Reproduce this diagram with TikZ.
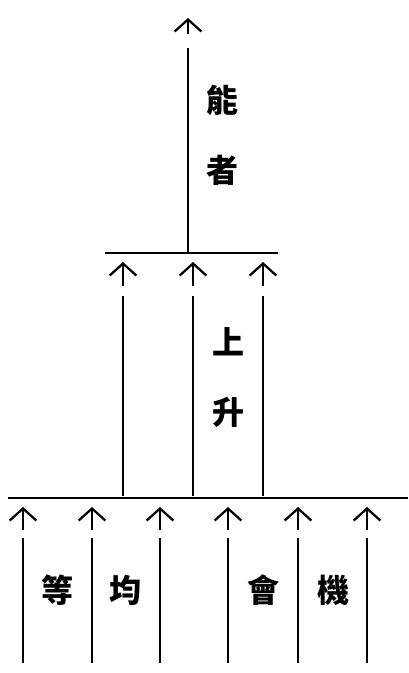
\documentclass[tikz,border=0pt]{standalone}
\usepackage{fontspec}
\newfontfamily\cjk{Noto Sans CJK TC}
\usetikzlibrary{arrows.meta}

\begin{document}
\begin{tikzpicture}[
    x=0.75pt, y=-0.75pt,
    head/.style={-{Straight Barb[length=9pt, width=20pt, line width=1.7pt]}, line width=1.7pt},
    shaft/.style={line width=1.6pt},
    bar/.style={line width=1.6pt},
    lbl/.style={font=\cjk\bfseries\fontsize{24}{24}\selectfont, inner sep=0pt}
]
\useasboundingbox (0,0) rectangle (408,673);

% --- Row 0: single arrow on top ---
\coordinate (toptip)  at (188,18);
\coordinate (topstem) at (188,34);
\coordinate (topline) at (188,48);
\coordinate (topfoot) at (188,253);

\draw[head]  (topstem) -- (toptip);
\draw[shaft] (topfoot) -- (topline);

\node[lbl] (neng) at (222,100) {能};
\node[lbl] (zhe)  at (222,170) {者};

% --- Row 1: three arrows ---
\coordinate (midleft)  at (105,253);
\coordinate (midright) at (278,253);
\draw[bar] (midleft) -- (midright);

\foreach \x/\n in {123/a, 193/b, 263/c} {
    \coordinate (mid\n tip)  at (\x,262);
    \coordinate (mid\n stem) at (\x,286);
    \coordinate (mid\n line) at (\x,296);
    \coordinate (mid\n foot) at (\x,496);
    \draw[head]  (mid\n stem) -- (mid\n tip);
    \draw[shaft] (mid\n foot) -- (mid\n line);
}

\node[lbl] (shang)  at (228,342) {上};
\node[lbl] (sheng)  at (228,412) {升};

% --- Row 2: six arrows ---
\coordinate (lowleft)  at (8,498);
\coordinate (lowright) at (408,498);
\draw[bar] (lowleft) -- (lowright);

\foreach \x/\n in {23/a, 92/b, 160/c, 228/d, 298/e, 367/f} {
    \coordinate (low\n tip)  at (\x,507);
    \coordinate (low\n stem) at (\x,530);
    \coordinate (low\n line) at (\x,538);
    \coordinate (low\n foot) at (\x,663);
    \draw[head]  (low\n stem) -- (low\n tip);
    \draw[shaft] (low\n foot) -- (low\n line);
}

\node[lbl] (deng) at (57,590)  {等};
\node[lbl] (jun)  at (125,590) {均};
\node[lbl] (hui)  at (263,590) {會};
\node[lbl] (ji)   at (333,590) {機};

\end{tikzpicture}
\end{document}
